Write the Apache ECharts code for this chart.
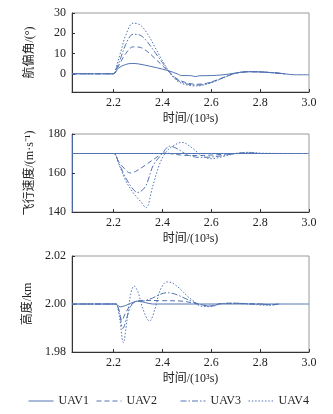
<!DOCTYPE html>
<html><head><meta charset="utf-8">
<script src="https://cdn.jsdelivr.net/npm/echarts@6/dist/echarts.min.js"></script>
<style>html,body{margin:0;padding:0;background:#fff}#c{width:333px;height:414px}</style>
</head><body><div id="c"></div>
<script>
// ---------- data ----------
const seriesNames = ['UAV1', 'UAV2', 'UAV3', 'UAV4'];
const xTickLabels = [2.2, 2.4, 2.6, 2.8, 3.0];
const yawTicks = [0, 10, 20, 30];
const speedTicks = [140, 160, 180];
const altTicks = [1.98, 2.00, 2.02];
const xTitle = '时间/(10³s)';
const yTitles = ['航偏角/(°)', '飞行速度/(m·s⁻¹)', '高度/km'];

// yaw angle (deg)
const yawT1 = [2.03, 2.2, 2.22, 2.25, 2.275, 2.3, 2.35, 2.4, 2.43, 2.46, 2.48, 2.5, 2.52, 2.535, 2.55, 2.6, 2.64, 2.68, 2.72, 2.76, 2.8, 2.86, 2.9, 2.94, 3.0];
const yawUAV1 = [0, 0, 2.8, 4.6, 5.1, 4.9, 3.7, 2.3, 1.3, 0, -0.9, -0.9, -1.0, -1.4, -1.0, -0.9, -0.6, 0, 0.7, 1.0, 0.9, 0.5, 0, -0.5, -0.5];
const yawT = [2.03, 2.2, 2.21, 2.23, 2.25, 2.28, 2.31, 2.34, 2.37, 2.4, 2.43, 2.46, 2.5, 2.54, 2.58, 2.62, 2.66, 2.7, 2.75, 2.8, 2.85, 2.9];
const yawUAV2 = [0, 0, 1.5, 6, 10, 13.3, 13, 10.8, 7.5, 4, 0.6, -2.5, -4.5, -5.2, -4.7, -3.2, -1.3, 0.3, 1, 0.9, 0.5, 0];
const yawUAV3 = [0, 0, 2, 8, 14.5, 19.5, 19, 15.5, 10.5, 5.5, 0.7, -3, -5, -5.6, -5, -3.4, -1.4, 0.3, 1, 0.9, 0.5, 0];
const yawUAV4 = [0, 0, 3, 11, 19, 25, 24, 19.5, 13, 6.5, 0.5, -3.5, -5.5, -6, -5.2, -3.5, -1.5, 0.3, 1.1, 1.0, 0.5, 0];

// flight speed (m/s)
const spdT1 = [2.03, 2.2, 2.4, 2.6, 2.8, 3.0];
const spdUAV1 = [170, 170, 170, 170, 170, 170];
const spdT2 = [2.03, 2.2, 2.22, 2.25, 2.268, 2.29, 2.33, 2.37, 2.41, 2.45, 2.5, 2.55, 2.6, 2.65, 2.7, 2.75, 2.8, 2.89];
const spdUAV2 = [170, 170, 166, 161.5, 160, 160.8, 164, 167.5, 170.3, 169.6, 169, 169, 169.2, 169.6, 170, 170.3, 170, 170];
const spdT3 = [2.03, 2.2, 2.22, 2.25, 2.275, 2.298, 2.33, 2.363, 2.4, 2.43, 2.46, 2.5, 2.55, 2.6, 2.65, 2.7, 2.75, 2.8, 2.89];
const spdUAV3 = [170, 170, 165.5, 157.5, 152.5, 150, 153, 164, 170, 173.8, 172.5, 169.5, 168, 168.2, 169, 170, 170.4, 170, 170];
const spdT4 = [2.03, 2.2, 2.22, 2.25, 2.28, 2.31, 2.333, 2.36, 2.39, 2.42, 2.46, 2.48, 2.52, 2.56, 2.6, 2.65, 2.7, 2.75, 2.8, 2.89];
const spdUAV4 = [170, 170, 165, 156, 150, 145.5, 142.2, 153, 165, 171.5, 175, 175.7, 173, 169, 167.3, 168.5, 170, 170.6, 170.2, 170];

// altitude (km)
const altT1 = [2.03, 2.2, 2.21, 2.227, 2.25, 2.27, 2.3, 2.33, 2.36, 3.0];
const altUAV1 = [2.0, 2.0, 2.0, 1.9988, 1.9994, 2.0003, 2.0012, 2.0006, 2.0, 2.0];
const altT2 = [2.03, 2.2, 2.21, 2.222, 2.234, 2.25, 2.27, 2.29, 2.32, 2.4, 2.48, 2.53, 2.57, 2.6, 2.64, 2.7, 2.76, 2.8, 2.84, 2.88];
const altUAV2 = [2, 2, 2, 1.9975, 1.9932, 1.9965, 1.9995, 2.001, 2.0015, 2.0014, 2.0012, 2.0003, 1.9995, 1.9993, 2.0002, 2.0003, 2.0001, 2.0, 1.9997, 2.0];
const altT3 = [2.03, 2.2, 2.21, 2.225, 2.238, 2.255, 2.27, 2.29, 2.32, 2.36, 2.39, 2.418, 2.45, 2.5, 2.54, 2.58, 2.6, 2.64, 2.7, 2.76, 2.8, 2.84, 2.88];
const altUAV3 = [2, 2, 2, 1.996, 1.9898, 1.9945, 1.999, 2.001, 2.0012, 2.0025, 2.004, 2.0047, 2.0042, 2.002, 2.0003, 1.9992, 1.9991, 2.0002, 2.0003, 2.0, 2.0, 1.9996, 2.0];
const altT4 = [2.03, 2.2, 2.21, 2.225, 2.24, 2.255, 2.27, 2.284, 2.3, 2.32, 2.347, 2.37, 2.39, 2.418, 2.44, 2.47, 2.5, 2.53, 2.56, 2.6, 2.64, 2.7, 2.76, 2.8, 2.83, 2.86, 2.88];
const altUAV4 = [2, 2, 2, 1.994, 1.9839, 1.993, 2.004, 2.0075, 2.005, 1.998, 1.9929, 1.998, 2.0055, 2.0092, 2.0088, 2.0065, 2.0035, 2.001, 1.999, 1.9989, 2.0001, 2.0003, 2.0, 1.9996, 1.9995, 1.9997, 2.0];

// ---------- chart ----------
const FONT = "'Liberation Serif', 'Noto Sans CJK SC', serif";
const TXT = '#222';
const LINE = '#5274b4';
const dashes = ['solid', [5, 3], [6, 2, 1.5, 2], [1.5, 1.8]];
const zip = (t, v) => t.map((x, i) => [x, v[i]]);

const grids = [
  { left: 72, right: 24, top: 13, height: 79 },
  { left: 72, right: 24, top: 134, height: 78 },
  { left: 72, right: 24, top: 256, height: 96 }
].map(g => Object.assign(g, { show: true, borderColor: '#999', borderWidth: 1, backgroundColor: 'transparent' }));

function xAx(i) {
  return {
    type: 'value', gridIndex: i, min: 2.03, max: 3.0, position: 'bottom',
    name: xTitle, nameLocation: 'middle', nameGap: 21,
    nameTextStyle: { fontFamily: FONT, fontSize: 12, color: TXT },
    axisLine: { show: true, onZero: false, lineStyle: { color: '#333', width: 1 } },
    axisTick: { show: true, inside: true, length: 3, customValues: xTickLabels, lineStyle: { color: '#333' } },
    axisLabel: { customValues: xTickLabels, formatter: v => v.toFixed(1), fontFamily: FONT, fontSize: 12, color: TXT, margin: 5 },
    splitLine: { show: false }
  };
}
function yAx(i, min, max, ticks, dec, gap, lineColor) {
  return {
    type: 'value', gridIndex: i, min, max, position: 'left',
    name: yTitles[i], nameLocation: 'middle', nameGap: gap,
    nameTextStyle: { fontFamily: FONT, fontSize: 12, color: TXT },
    axisLine: { show: true, onZero: false, lineStyle: { color: lineColor || '#333', width: 1 } },
    axisTick: { show: true, inside: true, length: 3, customValues: ticks, lineStyle: { color: '#333' } },
    axisLabel: { customValues: ticks, formatter: v => v.toFixed(dec), fontFamily: FONT, fontSize: 12, color: TXT, margin: 6 },
    splitLine: { show: false }
  };
}

const dataSets = [
  [zip(yawT1, yawUAV1), zip(yawT, yawUAV2), zip(yawT, yawUAV3), zip(yawT, yawUAV4)],
  [zip(spdT1, spdUAV1), zip(spdT2, spdUAV2), zip(spdT3, spdUAV3), zip(spdT4, spdUAV4)],
  [zip(altT1, altUAV1), zip(altT2, altUAV2), zip(altT3, altUAV3), zip(altT4, altUAV4)]
];
const series = [];
dataSets.forEach((set, g) => set.forEach((d, k) => {
  series.push({
    type: 'line', name: seriesNames[k], xAxisIndex: g, yAxisIndex: g, data: d,
    symbol: 'none', smooth: 0.35, animation: false, z: 10,
    lineStyle: { color: LINE, width: 1, type: dashes[k] }, itemStyle: { color: LINE }
  });
}));

const legendLeft = [28, 96, 180, 248];
const legends = seriesNames.map((n, k) => ({
  show: true, data: [n], left: legendLeft[k], top: 395, itemWidth: 25, itemHeight: 10, padding: 0,
  selectedMode: false,
  itemStyle: { color: 'transparent', borderWidth: 0, opacity: 0 },
  lineStyle: { color: LINE, width: 1, type: dashes[k] },
  textStyle: { fontFamily: FONT, fontSize: 12, color: TXT }
}));

const chart = echarts.init(document.getElementById('c'), null, { renderer: 'canvas' });
chart.setOption({
  backgroundColor: '#ffffff',
  animation: false,
  grid: grids,
  xAxis: [xAx(0), xAx(1), xAx(2)],
  yAxis: [yAx(0, -9, 30, yawTicks, 0, 36), yAx(1, 140, 180, speedTicks, 0, 36, '#4a66a8'), yAx(2, 1.98, 2.02, altTicks, 2, 38)],
  legend: legends,
  series
});
</script></body></html>
